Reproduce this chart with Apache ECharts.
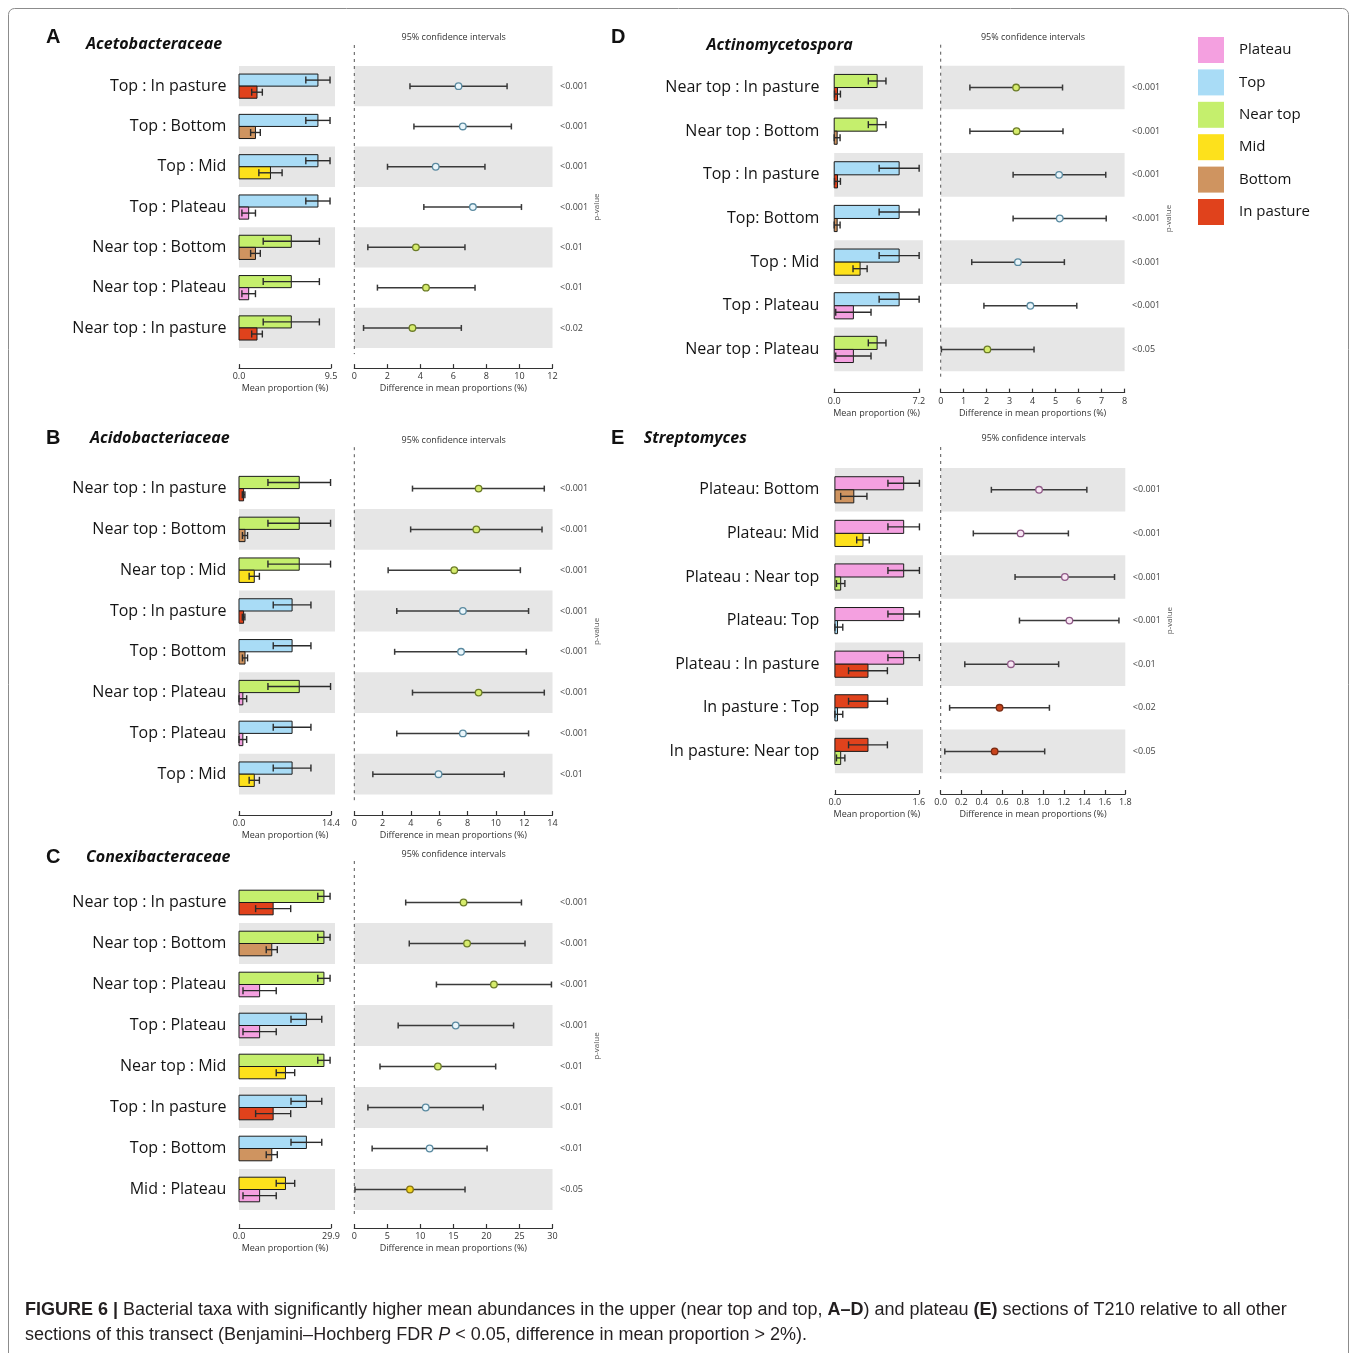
<!DOCTYPE html>
<html>
<head>
<meta charset="utf-8">
<script src="https://cdn.jsdelivr.net/npm/echarts@6/dist/echarts.min.js"></script>
<style>
  html, body { margin: 0; padding: 0; background: #fff; }
  #chart { width: 1357px; height: 1353px; }
</style>
</head>
<body>
<div id="chart"></div>
<script>
// Transect sections, in legend order
const GROUPS = ['Plateau', 'Top', 'Near top', 'Mid', 'Bottom', 'In pasture'];

// ---- A: Acetobacteraceae ----
const A_rows   = ['Top : In pasture', 'Top : Bottom', 'Top : Mid', 'Top : Plateau', 'Near top : Bottom', 'Near top : Plateau', 'Near top : In pasture'];
const A_first  = ['Top', 'Top', 'Top', 'Top', 'Near top', 'Near top', 'Near top'];
const A_second = ['In pasture', 'Bottom', 'Mid', 'Plateau', 'Bottom', 'Plateau', 'In pasture'];
const A_mean   = [1.0, 8.15, 5.4, 3.25, 1.7, 1.86];   // mean proportion (%) per section, GROUPS order
const A_err    = [0.7, 1.25, 2.9, 1.2, 0.5, 0.55];
const A_diff   = [6.31, 6.57, 4.93, 7.18, 3.73, 4.34, 3.52];
const A_lo     = [3.37, 3.61, 2.01, 4.21, 0.82, 1.40, 0.56];
const A_hi     = [9.25, 9.51, 7.91, 10.12, 6.70, 7.31, 6.48];
const A_p      = ['<0.001', '<0.001', '<0.001', '<0.001', '<0.01', '<0.01', '<0.02'];

// ---- B: Acidobacteriaceae ----
const B_rows   = ['Near top : In pasture', 'Near top : Bottom', 'Near top : Mid', 'Top : In pasture', 'Top : Bottom', 'Near top : Plateau', 'Top : Plateau', 'Top : Mid'];
const B_first  = ['Near top', 'Near top', 'Near top', 'Top', 'Top', 'Near top', 'Top', 'Top'];
const B_second = ['In pasture', 'Bottom', 'Mid', 'In pasture', 'Bottom', 'Plateau', 'Plateau', 'Mid'];
const B_mean   = [0.6, 8.31, 9.43, 2.39, 0.94, 0.72];
const B_err    = [0.6, 2.95, 4.9, 0.8, 0.4, 0.2];
const B_diff   = [8.78, 8.62, 7.06, 7.67, 7.54, 8.78, 7.67, 5.95];
const B_lo     = [4.11, 3.98, 2.39, 3.00, 2.85, 4.11, 3.00, 1.31];
const B_hi     = [13.42, 13.26, 11.73, 12.31, 12.15, 13.42, 12.31, 10.59];
const B_p      = ['<0.001', '<0.001', '<0.001', '<0.001', '<0.001', '<0.001', '<0.001', '<0.01'];

// ---- C: Conexibacteraceae ----
const C_rows   = ['Near top : In pasture', 'Near top : Bottom', 'Near top : Plateau', 'Top : Plateau', 'Near top : Mid', 'Top : In pasture', 'Top : Bottom', 'Mid : Plateau'];
const C_first  = ['Near top', 'Near top', 'Near top', 'Top', 'Near top', 'Top', 'Top', 'Mid'];
const C_second = ['In pasture', 'Bottom', 'Plateau', 'Plateau', 'Mid', 'In pasture', 'Bottom', 'Plateau'];
const C_mean   = [6.7, 21.9, 27.6, 15.1, 10.65, 11.1];
const C_err    = [5.4, 5.0, 2.0, 3.0, 1.8, 5.7];
const C_diff   = [16.54, 17.07, 21.13, 15.35, 12.65, 10.81, 11.40, 8.43];
const C_lo     = [7.78, 8.32, 12.43, 6.64, 3.89, 2.06, 2.70, 0.10];
const C_hi     = [25.30, 25.84, 29.84, 24.11, 21.40, 19.51, 20.10, 16.76];
const C_p      = ['<0.001', '<0.001', '<0.001', '<0.001', '<0.01', '<0.01', '<0.01', '<0.05'];

// ---- D: Actinomycetospora ----
const D_rows   = ['Near top : In pasture', 'Near top : Bottom', 'Top : In pasture', 'Top: Bottom', 'Top : Mid', 'Top : Plateau', 'Near top : Plateau'];
const D_first  = ['Near top', 'Near top', 'Top', 'Top', 'Top', 'Top', 'Near top'];
const D_second = ['In pasture', 'Bottom', 'In pasture', 'Bottom', 'Mid', 'Plateau', 'Plateau'];
const D_mean   = [1.63, 5.52, 3.65, 2.2, 0.25, 0.28];
const D_err    = [1.5, 1.7, 0.75, 0.6, 0.25, 0.25];
const D_diff   = [3.28, 3.30, 5.15, 5.18, 3.36, 3.90, 2.03];
const D_lo     = [1.27, 1.27, 3.15, 3.15, 1.35, 1.88, 0.03];
const D_hi     = [5.30, 5.32, 7.18, 7.20, 5.38, 5.92, 4.06];
const D_p      = ['<0.001', '<0.001', '<0.001', '<0.001', '<0.001', '<0.001', '<0.05'];

// ---- E: Streptomyces ----
const E_rows   = ['Plateau: Bottom', 'Plateau: Mid', 'Plateau : Near top', 'Plateau: Top', 'Plateau : In pasture', 'In pasture : Top', 'In pasture: Near top'];
const E_first  = ['Plateau', 'Plateau', 'Plateau', 'Plateau', 'Plateau', 'In pasture', 'In pasture'];
const E_second = ['Bottom', 'Mid', 'Near top', 'Top', 'In pasture', 'Top', 'Near top'];
const E_mean   = [1.31, 0.05, 0.11, 0.535, 0.36, 0.63];
const E_err    = [0.3, 0.1, 0.08, 0.12, 0.25, 0.37];
const E_diff   = [0.959, 0.779, 1.211, 1.255, 0.685, 0.574, 0.526];
const E_lo     = [0.494, 0.318, 0.725, 0.768, 0.235, 0.087, 0.040];
const E_hi     = [1.425, 1.245, 1.695, 1.738, 1.150, 1.060, 1.014];
const E_p      = ['<0.001', '<0.001', '<0.001', '<0.001', '<0.01', '<0.02', '<0.05'];

// Axis extents and tick steps per panel (A..E)
const BAR_MAX = [9.5, 14.4, 29.9, 7.2, 1.6];
const CI_MAX  = [12, 14, 30, 8, 1.8];
const CI_STEP = [2, 2, 5, 1, 0.2];

const TAXA    = ['Acetobacteraceae', 'Acidobacteriaceae', 'Conexibacteraceae', 'Actinomycetospora', 'Streptomyces'];
const LETTERS = ['A', 'B', 'C', 'D', 'E'];

// Styling
const BAR_COLORS = ['#f4a0e0', '#a9dcf6', '#c5ef6d', '#fde11c', '#cf9460', '#e0421c'];
const MARK_FILL  = ['#f8e6f4', '#eaf6fb', '#d6ec6c', '#f2d41e', '#cf9460', '#c9441c'];
const MARK_EDGE  = ['#8f5a87', '#5a8aa0', '#6c7c28', '#857312', '#7a5030', '#7a2a12'];
const BAND = '#e6e6e6';
const FONT = "'Open Sans', 'Noto Sans', 'DejaVu Sans', sans-serif";

// Panel geometry (pixels)
const LAYOUT = [
  { top: 66.0,  rowH: 40.3,  off: 20.0, barL: 239.0, barW: 92.0, ciL: 354.3, ciW: 198.2, lblM: 12.6, letter: [46, 37],  title: [86, 44],    ciTitle: [453.6, 37] },
  { top: 468.2, rowH: 40.8,  off: 20.4, barL: 239.0, barW: 92.0, ciL: 354.3, ciW: 198.2, lblM: 12.6, letter: [46, 438], title: [90, 438],   ciTitle: [453.6, 440] },
  { top: 882.0, rowH: 41.0,  off: 18.0, barL: 239.0, barW: 92.0, ciL: 354.3, ciW: 198.2, lblM: 12.6, letter: [46, 857], title: [86, 857],   ciTitle: [453.6, 854] },
  { top: 65.7,  rowH: 43.65, off: 21.4, barL: 834.2, barW: 84.7, ciL: 940.7, ciW: 183.9, lblM: 14.8, letter: [611, 37], title: [706.5, 45], ciTitle: [1033, 37] },
  { top: 468.0, rowH: 43.6,  off: 20.8, barL: 834.9, barW: 84.0, ciL: 940.7, ciW: 184.6, lblM: 15.5, letter: [611, 438], title: [643.7, 438], ciTitle: [1033.6, 438] }
];

const PANELS = [
  { rows: A_rows, first: A_first, second: A_second, mean: A_mean, err: A_err, diff: A_diff, lo: A_lo, hi: A_hi, p: A_p },
  { rows: B_rows, first: B_first, second: B_second, mean: B_mean, err: B_err, diff: B_diff, lo: B_lo, hi: B_hi, p: B_p },
  { rows: C_rows, first: C_first, second: C_second, mean: C_mean, err: C_err, diff: C_diff, lo: C_lo, hi: C_hi, p: C_p },
  { rows: D_rows, first: D_first, second: D_second, mean: D_mean, err: D_err, diff: D_diff, lo: D_lo, hi: D_hi, p: D_p },
  { rows: E_rows, first: E_first, second: E_second, mean: E_mean, err: E_err, diff: E_diff, lo: E_lo, hi: E_hi, p: E_p }
];

const isShaded = (n, i) => (n - 1 - i) % 2 === 0;

// Paired mean-proportion bars with their error whiskers
function barRenderer(P) {
  const n = P.rows.length;
  return function (params, api) {
    const i = api.value(0);
    const cs = params.coordSys;
    const origin = api.coord([0, i]);
    const band = api.size([0, 1])[1];
    const cy = origin[1];
    const h = band * 0.3;
    const kids = [];
    if (isShaded(n, i)) {
      kids.push({ type: 'rect', shape: { x: cs.x, y: cy - band / 2, width: cs.width + 4, height: band }, style: { fill: BAND }, z2: 0 });
    }
    const pairs = [
      [api.value(1), api.value(2), GROUPS.indexOf(P.first[i]), cy - h],
      [api.value(3), api.value(4), GROUPS.indexOf(P.second[i]), cy]
    ];
    pairs.forEach(([m, e, g, y]) => {
      const xe = api.coord([m, i])[0];
      kids.push({ type: 'rect', shape: { x: origin[0], y: y, width: xe - origin[0], height: h },
        style: { fill: BAR_COLORS[g], stroke: '#1b1b1b', lineWidth: 1 }, z2: 1 });
      const xl = Math.max(api.coord([m - e, i])[0], origin[0]);
      const xr = api.coord([m + e, i])[0];
      const ym = y + h / 2;
      const st = { stroke: '#2b2b2b', lineWidth: 1.4 };
      kids.push({ type: 'line', shape: { x1: xl, y1: ym, x2: xr, y2: ym }, style: st, z2: 2 });
      kids.push({ type: 'line', shape: { x1: xl, y1: ym - 3.5, x2: xl, y2: ym + 3.5 }, style: st, z2: 2 });
      kids.push({ type: 'line', shape: { x1: xr, y1: ym - 3.5, x2: xr, y2: ym + 3.5 }, style: st, z2: 2 });
    });
    return { type: 'group', children: kids };
  };
}

// Difference in mean proportions with 95% CI and p-value
function ciRenderer(P) {
  const n = P.rows.length;
  return function (params, api) {
    const i = api.value(0);
    const cs = params.coordSys;
    const band = api.size([0, 1])[1];
    const pt = api.coord([api.value(1), i]);
    const xl = api.coord([api.value(2), i])[0];
    const xr = api.coord([api.value(3), i])[0];
    const cy = pt[1];
    const g = GROUPS.indexOf(P.first[i]);
    const kids = [];
    if (isShaded(n, i)) {
      kids.push({ type: 'rect', shape: { x: cs.x, y: cy - band / 2, width: cs.width, height: band }, style: { fill: BAND }, z2: 0 });
    }
    const st = { stroke: '#3a3a3a', lineWidth: 1.5 };
    kids.push({ type: 'line', shape: { x1: xl, y1: cy, x2: xr, y2: cy }, style: st, z2: 2 });
    kids.push({ type: 'line', shape: { x1: xl, y1: cy - 3, x2: xl, y2: cy + 3 }, style: st, z2: 2 });
    kids.push({ type: 'line', shape: { x1: xr, y1: cy - 3, x2: xr, y2: cy + 3 }, style: st, z2: 2 });
    kids.push({ type: 'circle', shape: { cx: pt[0], cy: cy, r: 3.3 },
      style: { fill: MARK_FILL[g], stroke: MARK_EDGE[g], lineWidth: 1.3 }, z2: 3 });
    kids.push({ type: 'text', x: cs.x + cs.width + 7.5, y: cy,
      style: { text: P.p[i], fill: '#444', fontSize: 9, fontFamily: FONT, align: 'left', verticalAlign: 'middle' }, z2: 3 });
    return { type: 'group', children: kids };
  };
}

// Dashed zero line and the rotated p-value caption
function zeroRenderer(params, api) {
  const cs = params.coordSys;
  const x0 = api.coord([0, 0])[0];
  return { type: 'group', children: [
    { type: 'line', shape: { x1: x0, y1: cs.y - 21, x2: x0, y2: cs.y + cs.height + 6 },
      style: { stroke: '#555', lineWidth: 1, lineDash: [3, 4] } },
    { type: 'text', x: cs.x + cs.width + 44, y: cs.y + cs.height / 2, rotation: Math.PI / 2,
      style: { text: 'p-value', fill: '#555', fontSize: 8, fontFamily: FONT, align: 'center', verticalAlign: 'middle' } }
  ] };
}

const grid = [], xAxis = [], yAxis = [], series = [], graphic = [];
const smallTxt = { fontSize: 9, color: '#333', fontFamily: FONT };
const axisLine = { show: true, lineStyle: { color: '#333', width: 1.2 } };
const axisTick = { show: true, inside: true, length: 4, lineStyle: { color: '#333', width: 1.2 } };

PANELS.forEach((P, k) => {
  const L = LAYOUT[k];
  const n = P.rows.length;
  const H = L.rowH * n;
  const gb = 2 * k, gc = 2 * k + 1;

  grid.push({ left: L.barL, top: L.top, width: L.barW, height: H });
  grid.push({ left: L.ciL, top: L.top, width: L.ciW, height: H });

  xAxis.push({
    gridIndex: gb, type: 'value', min: 0, max: BAR_MAX[k], interval: BAR_MAX[k], offset: L.off,
    axisLine, axisTick, splitLine: { show: false },
    axisLabel: Object.assign({ margin: 4, formatter: v => v.toFixed(1) }, smallTxt),
    name: 'Mean proportion (%)', nameLocation: 'middle', nameGap: 16, nameTextStyle: smallTxt
  });
  xAxis.push({
    gridIndex: gc, type: 'value', min: 0, max: CI_MAX[k], interval: CI_STEP[k], offset: L.off,
    axisLine, axisTick, splitLine: { show: false },
    axisLabel: Object.assign({ margin: 4, formatter: v => (CI_STEP[k] < 1 ? v.toFixed(1) : String(Math.round(v))) }, smallTxt),
    name: 'Difference in mean proportions (%)', nameLocation: 'middle', nameGap: 16, nameTextStyle: smallTxt
  });
  yAxis.push({
    gridIndex: gb, type: 'category', data: P.rows, inverse: true,
    axisLine: { show: false }, axisTick: { show: false }, splitLine: { show: false },
    axisLabel: { fontSize: 16, color: '#141414', fontFamily: FONT, margin: L.lblM }
  });
  yAxis.push({ gridIndex: gc, type: 'category', data: P.rows, inverse: true, show: false });

  series.push({
    type: 'custom', xAxisIndex: gb, yAxisIndex: gb, z: 2,
    data: P.rows.map((r, i) => [i,
      P.mean[GROUPS.indexOf(P.first[i])], P.err[GROUPS.indexOf(P.first[i])],
      P.mean[GROUPS.indexOf(P.second[i])], P.err[GROUPS.indexOf(P.second[i])]]),
    encode: { x: 1, y: 0 }, renderItem: barRenderer(P), silent: true
  });
  series.push({
    type: 'custom', xAxisIndex: gc, yAxisIndex: gc, z: 2,
    data: P.rows.map((r, i) => [i, P.diff[i], P.lo[i], P.hi[i]]),
    encode: { x: [1, 2, 3], y: 0 }, renderItem: ciRenderer(P), silent: true
  });
  series.push({
    type: 'custom', xAxisIndex: gc, yAxisIndex: gc, z: 3,
    data: [[0, 0]], encode: { x: 0, y: 1 }, renderItem: zeroRenderer, silent: true
  });

  graphic.push({ type: 'text', x: L.letter[0], y: L.letter[1],
    style: { text: LETTERS[k], fontSize: 20, fontWeight: 'bold', fontFamily: "'Liberation Sans', Arial, sans-serif", fill: '#111', align: 'left', verticalAlign: 'middle' } });
  graphic.push({ type: 'text', x: L.title[0], y: L.title[1],
    style: { text: TAXA[k], fontSize: 16, fontWeight: 'bold', fontStyle: 'italic', fontFamily: FONT, fill: '#111', align: 'left', verticalAlign: 'middle' } });
  graphic.push({ type: 'text', x: L.ciTitle[0], y: L.ciTitle[1],
    style: { text: '95% confidence intervals', fontSize: 9, fontFamily: FONT, fill: '#333', align: 'center', verticalAlign: 'middle' } });
});

// Legend entries (one empty series per section)
GROUPS.forEach((g, k) => {
  series.push({ type: 'bar', name: g, data: [], xAxisIndex: 0, yAxisIndex: 0, itemStyle: { color: BAR_COLORS[k] } });
});

// Figure frame and caption
graphic.push({ type: 'rect', shape: { x: 8.5, y: 8.5, width: 1340, height: 1400, r: 6 },
  style: { fill: 'none', stroke: '#8c8c8c', lineWidth: 1 } });
const CAP = "'Liberation Sans', Arial, sans-serif";
const capRich = {
  b: { fontWeight: 'bold', fontSize: 18, fontFamily: CAP, fill: '#231f20' },
  i: { fontStyle: 'italic', fontSize: 18, fontFamily: CAP, fill: '#231f20' }
};
graphic.push({ type: 'text', x: 25, y: 1310,
  style: { text: '{b|FIGURE 6 |} Bacterial taxa with significantly higher mean abundances in the upper (near top and top, {b|A–D}) and plateau {b|(E)} sections of T210 relative to all other',
    rich: capRich, fontSize: 18, fontFamily: CAP, fill: '#231f20', align: 'left', verticalAlign: 'middle' } });
graphic.push({ type: 'text', x: 25, y: 1335,
  style: { text: 'sections of this transect (Benjamini–Hochberg FDR {i|P} < 0.05, difference in mean proportion > 2%).',
    rich: capRich, fontSize: 18, fontFamily: CAP, fill: '#231f20', align: 'left', verticalAlign: 'middle' } });

const chart = echarts.init(document.getElementById('chart'), null, { renderer: 'canvas' });
chart.setOption({
  animation: false,
  backgroundColor: '#ffffff',
  grid, xAxis, yAxis, series, graphic,
  legend: {
    data: GROUPS, orient: 'vertical', left: 1198, top: 37, padding: 0,
    itemWidth: 26, itemHeight: 26, itemGap: 6.4, icon: 'rect', selectedMode: false,
    textStyle: { fontSize: 15, color: '#141414', fontFamily: FONT, padding: [0, 0, 0, 10] }
  }
});
</script>
</body>
</html>
